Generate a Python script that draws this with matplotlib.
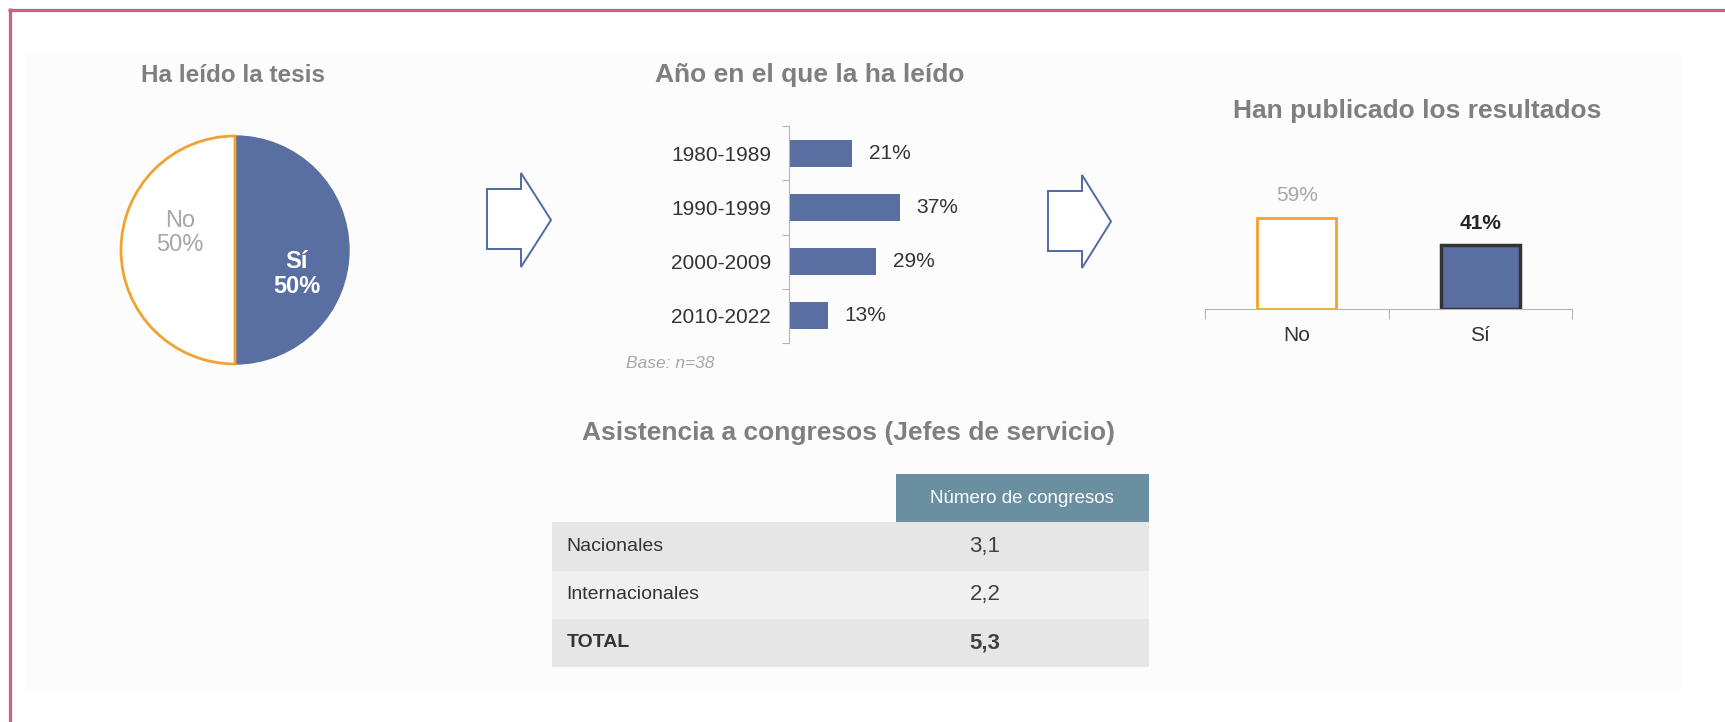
import matplotlib
matplotlib.use('Agg')
import matplotlib.pyplot as plt
from matplotlib.patches import Rectangle, Polygon

plt.rcParams['font.family'] = ['Liberation Sans', 'DejaVu Sans']

# --- data ---
pie_labels = ['Sí', 'No']
pie_values = [50, 50]

year_ranges = ['1980-1989', '1990-1999', '2000-2009', '2010-2022']
year_pct = [21, 37, 29, 13]
base_note = 'Base: n=38'

pub_labels = ['No', 'Sí']
pub_pct = [59, 41]

congress_header = 'Número de congresos'
congress_rows = ['Nacionales', 'Internacionales', 'TOTAL']
congress_values = [3.1, 2.2, 5.3]

# --- colours ---
BLUE = '#5a6fa1'
ORANGE = '#f0a232'
TITLE_GRAY = '#7f7f7f'
TEXT = '#333333'
LIGHT_TXT = '#a6a6a6'
AXIS_GRAY = '#b5b5b5'
TEAL = '#6a8fa0'
ROW_A = '#e6e6e6'
ROW_B = '#f0f0f0'
FRAME = '#c9627c'
ARROW = '#4f6aa5'

W, H = 1725, 722
fig = plt.figure(figsize=(W / 100, H / 100), dpi=100)


def box(x0, y0, x1, y1):
    # pixel box (top-left origin) -> figure fraction
    return [x0 / W, 1 - y1 / H, (x1 - x0) / W, (y1 - y0) / H]


# background layer in pixel coords
bg = fig.add_axes([0, 0, 1, 1], zorder=0)
bg.set_xlim(0, W)
bg.set_ylim(H, 0)
bg.axis('off')
bg.add_patch(Rectangle((25, 53), 1657, 638, color='#fcfcfc', lw=0))
bg.plot([8, W], [9.5, 9.5], color=FRAME, lw=2.3, solid_capstyle='butt')
bg.plot([9.5, 9.5], [8, H], color=FRAME, lw=2.3, solid_capstyle='butt')


def block_arrow(x0, xb, tip, by0, by1, hy0, hy1):
    ty = (hy0 + hy1) / 2
    pts = [(x0, by0), (xb, by0), (xb, hy0), (tip, ty), (xb, hy1), (xb, by1), (x0, by1)]
    bg.add_patch(Polygon(pts, closed=True, facecolor='white', edgecolor=ARROW, lw=1.4))


block_arrow(487, 521, 551, 189, 249, 173, 267)
block_arrow(1048, 1082, 1111, 191, 251, 175, 268)

title_kw = dict(ha='center', va='center', fontweight='bold', color=TITLE_GRAY)
bg.text(233, 75, 'Ha leído la tesis', fontsize=17.5, **title_kw)
bg.text(810, 75, 'Año en el que la ha leído', fontsize=19, **title_kw)
bg.text(1417, 111, 'Han publicado los resultados', fontsize=19, **title_kw)
bg.text(849, 433, 'Asistencia a congresos (Jefes de servicio)', fontsize=19, **title_kw)
bg.text(626, 363, base_note, ha='left', va='center', fontsize=12.5,
        style='italic', color=LIGHT_TXT)

# --- pie ---
r = 114
axp = fig.add_axes(box(235 - 1.03 * r, 250 - 1.03 * r, 235 + 1.03 * r, 250 + 1.03 * r), zorder=2)
wedges, _ = axp.pie(pie_values, colors=[BLUE, 'white'], startangle=90, counterclock=False,
                    radius=1)
wedges[0].set_edgecolor(BLUE)
wedges[0].set_linewidth(1)
wedges[1].set_edgecolor(ORANGE)
wedges[1].set_linewidth(2)
axp.set_xlim(-1.03, 1.03)
axp.set_ylim(-1.03, 1.03)
axp.set_aspect('equal')
axp.axis('off')
axp.text(-0.48, 0.15, f'{pie_labels[1]}\n{pie_values[1]}%', ha='center', va='center',
         fontsize=17, color=LIGHT_TXT, linespacing=1.15)
axp.text(0.54, -0.21, f'{pie_labels[0]}\n{pie_values[0]}%', ha='center', va='center',
         fontsize=17, color='white', fontweight='bold', linespacing=1.15)

# --- horizontal bars: year ---
axh = fig.add_axes(box(789, 126, 909, 343), zorder=2)
axh.patch.set_visible(False)
yb = axh.barh(range(len(year_ranges)), year_pct, height=0.5, color=BLUE)
axh.set_xlim(0, 40)
axh.set_ylim(len(year_ranges) - 0.5, -0.5)
for s in ['top', 'right', 'bottom']:
    axh.spines[s].set_visible(False)
axh.spines['left'].set_color(AXIS_GRAY)
axh.set_xticks([])
axh.set_yticks([i - 0.5 for i in range(len(year_ranges) + 1)], labels=[])
axh.set_yticks(range(len(year_ranges)), labels=year_ranges, minor=True)
axh.tick_params(axis='y', which='major', length=5, color=AXIS_GRAY)
axh.tick_params(axis='y', which='minor', length=0, pad=13, labelsize=15, labelcolor=TEXT)
axh.bar_label(yb, labels=[f'{v}%' for v in year_pct], padding=12, fontsize=15, color=TEXT)

# --- vertical bars: published ---
axv = fig.add_axes(box(1205, 200.5, 1572, 309), zorder=2)
axv.patch.set_visible(False)
vb = axv.bar(range(len(pub_labels)), pub_pct, width=0.43, color=['white', BLUE],
             edgecolor=[ORANGE, '#333333'], linewidth=[2, 2.5])
axv.set_xlim(-0.5, len(pub_labels) - 0.5)
axv.set_ylim(0, 70)
for s in ['top', 'right', 'left']:
    axv.spines[s].set_visible(False)
axv.spines['bottom'].set_color(AXIS_GRAY)
axv.set_yticks([])
axv.set_xticks([i - 0.5 for i in range(len(pub_labels) + 1)], labels=[])
axv.set_xticks(range(len(pub_labels)), labels=pub_labels, minor=True)
axv.tick_params(axis='x', which='major', length=7, color=AXIS_GRAY)
axv.tick_params(axis='x', which='minor', length=0, pad=12.5, labelsize=15, labelcolor=TEXT)
vt = axv.bar_label(vb, labels=[f'{v}%' for v in pub_pct], padding=9, fontsize=15)
vt[0].set_color(LIGHT_TXT)
vt[1].set_color('#262626')
vt[1].set_fontweight('bold')
for t in vt:
    t.set_clip_on(False)

# --- table: congresses ---
axt = fig.add_axes(box(552, 474, 1149, 667), zorder=2)
axt.set_xlim(0, 1)
axt.set_ylim(len(congress_rows) + 1, 0)
axt.axis('off')
col_x = 0.576
axt.add_patch(Rectangle((col_x, 0), 1 - col_x, 1, color=TEAL, lw=0))
axt.text((col_x + 1) / 2, 0.5, congress_header, ha='center', va='center',
         fontsize=13.5, color='white')
for i, (name, val) in enumerate(zip(congress_rows, congress_values)):
    axt.add_patch(Rectangle((0, i + 1), 1, 1, color=ROW_A if i % 2 == 0 else ROW_B, lw=0))
    weight = 'bold' if name == 'TOTAL' else 'normal'
    axt.text(0.024, i + 1.5, name, ha='left', va='center', fontsize=14,
             color=TEXT, fontweight=weight)
    axt.text(0.725, i + 1.5, f'{val:.1f}'.replace('.', ','), ha='center', va='center',
             fontsize=16, color='#404040', fontweight=weight)

fig.savefig('out.png', dpi=100, facecolor='white')
